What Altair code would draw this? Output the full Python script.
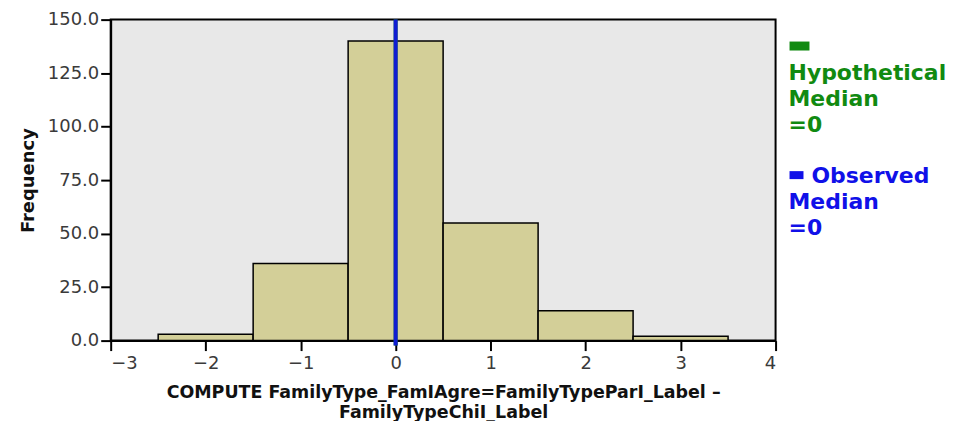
import altair as alt
import pandas as pd

# ---- data ----
bin_centers = [-2, -1, 0, 1, 2, 3]
frequencies = [3, 36, 140, 55, 14, 2]
hypothetical_median = [0]
observed_median = [0]
x_tick_values = [-3, -2, -1, 0, 1, 2, 3, 4]
y_tick_values = [0, 25, 50, 75, 100, 125, 150]
x_title = ["COMPUTE FamilyType_FamIAgre=FamilyTypeParI_Label –", "FamilyTypeChiI_Label"]
y_title = "Frequency"

hyp_lines = ["Hypothetical", "Median", "=0"]
obs_lines = ["Observed", "Median", "=0"]

FONT = "DejaVu Sans"
GREEN = "#118a11"
BLUE = "#1010e8"

df = pd.DataFrame({"center": bin_centers, "freq": frequencies})
xscale = alt.Scale(domain=[-3, 4], nice=False, zero=False)
yscale = alt.Scale(domain=[0, 150], nice=False)

axis_common = dict(
    domainColor="black", domainWidth=2, tickColor="black", tickWidth=2,
    tickSize=10, grid=False, labelFont=FONT, labelFontSize=18,
    labelColor="#3a3a3a", titleFont=FONT,
    titleFontWeight="bold", titleColor="#111111",
)

bars = alt.Chart(df).transform_calculate(
    lo="datum.center - 0.5", hi="datum.center + 0.5"
).mark_bar(fill="#d3cf98", stroke="black", strokeWidth=1.5).encode(
    x=alt.X("lo:Q", scale=xscale,
            axis=alt.Axis(values=x_tick_values, format="d", title=x_title,
                          labelPadding=4, titlePadding=11, titleFontSize=17.5,
                          titleLineHeight=20, **axis_common)),
    x2="hi:Q",
    y=alt.Y("freq:Q", scale=yscale,
            axis=alt.Axis(values=y_tick_values, format=".1f", title=y_title,
                          labelPadding=2, titlePadding=10, titleFontSize=18,
                          **axis_common)),
    y2=alt.datum(0),
)

hyp_rule = alt.Chart(pd.DataFrame({"m": hypothetical_median})).mark_rule(
    color=GREEN, strokeWidth=4).encode(
    x=alt.X("m:Q", scale=xscale), y=alt.value(0), y2=alt.value(327))
obs_rule = alt.Chart(pd.DataFrame({"m": observed_median})).mark_rule(
    color=BLUE, strokeWidth=4, opacity=0.9).encode(
    x=alt.X("m:Q", scale=xscale), y=alt.value(0), y2=alt.value(327))

def legend_text(lines, color, x0, first_x, base_y, step=26):
    layers = []
    for i, t in enumerate(lines):
        layers.append(
            alt.Chart(pd.DataFrame({"t": [t]})).mark_text(
                font=FONT, fontSize=22, fontWeight="bold", color=color,
                align="left", baseline="alphabetic").encode(
                text="t:N",
                x=alt.value(first_x if i == 0 else x0),
                y=alt.value(base_y + i * step)))
    return layers

hyp_box = alt.Chart(pd.DataFrame({"a": [0]})).mark_rect(color=GREEN).encode(
    x=alt.value(681), x2=alt.value(701), y=alt.value(22), y2=alt.value(31))
obs_box = alt.Chart(pd.DataFrame({"a": [0]})).mark_rect(color=BLUE).encode(
    x=alt.value(681), x2=alt.value(695), y=alt.value(152), y2=alt.value(160))

layers = [bars, hyp_rule, obs_rule, hyp_box, obs_box]
layers += legend_text(hyp_lines, GREEN, 680, 680, 61)
layers += legend_text(obs_lines, BLUE, 680, 703, 164)

chart = alt.layer(*layers).properties(
    width=667, height=322,
    autosize=alt.AutoSizeParams(type="none"),
    padding={"left": 103, "top": 11, "right": 182, "bottom": 80},
    background="white",
).configure_view(fill="#e8e8e8", stroke="black", strokeWidth=2)

chart.save("out.html", embed_options={"renderer": "svg", "actions": False})
